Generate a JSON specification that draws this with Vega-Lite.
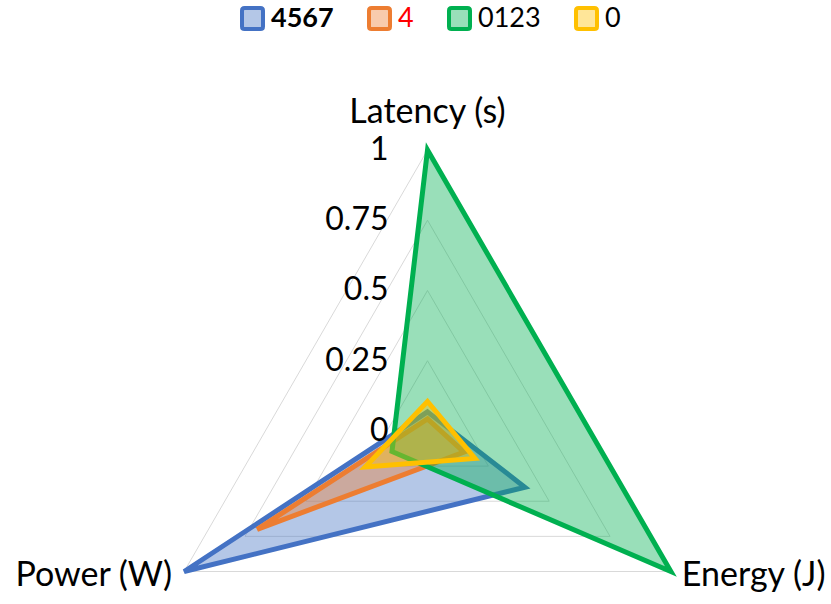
{
  "$schema": "https://vega.github.io/schema/vega-lite/v6.json",
  "width": 831,
  "height": 604,
  "autosize": {"type": "none"},
  "padding": 0,
  "background": "white",
  "config": {"view": {"stroke": null}, "font": "Lato"},
  "datasets": {
    "series": [
      {"series": "4567", "axis": "Latency (s)", "k": 0, "value": 0.068},
      {"series": "4567", "axis": "Energy (J)", "k": 1, "value": 0.40},
      {"series": "4567", "axis": "Power (W)", "k": 2, "value": 1.0},
      {"series": "4", "axis": "Latency (s)", "k": 0, "value": 0.043},
      {"series": "4", "axis": "Energy (J)", "k": 1, "value": 0.15},
      {"series": "4", "axis": "Power (W)", "k": 2, "value": 0.70},
      {"series": "0123", "axis": "Latency (s)", "k": 0, "value": 1.0},
      {"series": "0123", "axis": "Energy (J)", "k": 1, "value": 1.0},
      {"series": "0123", "axis": "Power (W)", "k": 2, "value": 0.146},
      {"series": "0", "axis": "Latency (s)", "k": 0, "value": 0.105},
      {"series": "0", "axis": "Energy (J)", "k": 1, "value": 0.195},
      {"series": "0", "axis": "Power (W)", "k": 2, "value": 0.256}
    ],
    "grid": [
      {"level": 0.25, "k": 0}, {"level": 0.25, "k": 1}, {"level": 0.25, "k": 2},
      {"level": 0.5, "k": 0}, {"level": 0.5, "k": 1}, {"level": 0.5, "k": 2},
      {"level": 0.75, "k": 0}, {"level": 0.75, "k": 1}, {"level": 0.75, "k": 2},
      {"level": 1, "k": 0}, {"level": 1, "k": 1}, {"level": 1, "k": 2}
    ],
    "ticks": [
      {"level": 0, "label": "0"},
      {"level": 0.25, "label": "0.25"},
      {"level": 0.5, "label": "0.5"},
      {"level": 0.75, "label": "0.75"},
      {"level": 1, "label": "1"}
    ],
    "axes": [
      {"axis": "Latency (s)", "k": 0},
      {"axis": "Energy (J)", "k": 1},
      {"axis": "Power (W)", "k": 2}
    ]
  },
  "layer": [
    {
      "data": {"name": "grid"},
      "transform": [
        {"calculate": "datum.k * 2 * PI / 3", "as": "theta"},
        {"calculate": "datum.level * sin(datum.theta)", "as": "x"},
        {"calculate": "datum.level * cos(datum.theta)", "as": "y"}
      ],
      "mark": {"type": "line", "interpolate": "linear-closed", "stroke": "#d9d9d9", "strokeWidth": 1},
      "encoding": {
        "x": {"field": "x", "type": "quantitative", "scale": {"domain": [-1.5214, 1.4359], "nice": false, "zero": false}, "axis": null},
        "y": {"field": "y", "type": "quantitative", "scale": {"domain": [-0.6157, 1.5338], "nice": false, "zero": false}, "axis": null},
        "detail": {"field": "level", "type": "nominal"},
        "order": {"field": "k", "type": "quantitative"}
      }
    },
    {
      "data": {"name": "series"},
      "transform": [
        {"calculate": "datum.k * 2 * PI / 3", "as": "theta"},
        {"calculate": "datum.value * sin(datum.theta)", "as": "x"},
        {"calculate": "datum.value * cos(datum.theta)", "as": "y"}
      ],
      "mark": {
        "type": "line", "interpolate": "linear-closed", "strokeWidth": 5, "fillOpacity": 0.4, "strokeJoin": "miter",
        "fill": {"expr": "datum.series ? scale('color', datum.series) : (datum.value === '4567' ? '#B4C7E7' : datum.value === '4' ? '#F8CBAD' : datum.value === '0123' ? '#99DFB9' : '#FFE699')"}
      },
      "encoding": {
        "x": {"field": "x", "type": "quantitative"},
        "y": {"field": "y", "type": "quantitative"},
        "color": {
          "field": "series", "type": "nominal",
          "scale": {"domain": ["4567", "4", "0123", "0"], "range": ["#4472C4", "#ED7D31", "#00B050", "#FFC000"]},
          "legend": {
            "orient": "none", "direction": "horizontal", "legendX": 239, "legendY": 5,
            "title": null, "padding": 0,
            "symbolType": "M-0.75,-1H0.75Q1,-1,1,-0.75V0.75Q1,1,0.75,1H-0.75Q-1,1,-1,0.75V-0.75Q-1,-1,-0.75,-1Z",
            "symbolSize": 441, "symbolStrokeWidth": 4,
            "labelFontSize": 27, "labelFont": "Lato", "labelOffset": 5, "columnPadding": 27,
            "labelColor": {"expr": "datum.label === '4' ? '#ff0000' : '#000000'"},
            "labelFontWeight": {"expr": "datum.label === '4567' ? 'bold' : 'normal'"}
          }
        },
        "order": {"field": "k", "type": "quantitative"}
      }
    },
    {
      "data": {"name": "ticks"},
      "mark": {"type": "text", "align": "right", "baseline": "middle", "dx": -39, "fontSize": 32, "font": "Lato", "color": "black"},
      "transform": [{"calculate": "0", "as": "x"}],
      "encoding": {
        "x": {"field": "x", "type": "quantitative"},
        "y": {"field": "level", "type": "quantitative"},
        "text": {"field": "label"}
      }
    },
    {
      "data": {"name": "axes"},
      "transform": [
        {"filter": "datum.k == 0"},
        {"calculate": "0", "as": "x"},
        {"calculate": "1", "as": "y"}
      ],
      "mark": {"type": "text", "align": "center", "baseline": "alphabetic", "dy": -27, "fontSize": 34, "font": "Lato", "color": "black"},
      "encoding": {
        "x": {"field": "x", "type": "quantitative"},
        "y": {"field": "y", "type": "quantitative"},
        "text": {"field": "axis"}
      }
    },
    {
      "data": {"name": "axes"},
      "transform": [
        {"filter": "datum.k == 1"},
        {"calculate": "sin(2 * PI / 3)", "as": "x"},
        {"calculate": "cos(2 * PI / 3)", "as": "y"}
      ],
      "mark": {"type": "text", "align": "left", "baseline": "alphabetic", "dx": 11, "dy": 15, "fontSize": 34, "font": "Lato", "color": "black"},
      "encoding": {
        "x": {"field": "x", "type": "quantitative"},
        "y": {"field": "y", "type": "quantitative"},
        "text": {"field": "axis"}
      }
    },
    {
      "data": {"name": "axes"},
      "transform": [
        {"filter": "datum.k == 2"},
        {"calculate": "sin(4 * PI / 3)", "as": "x"},
        {"calculate": "cos(4 * PI / 3)", "as": "y"}
      ],
      "mark": {"type": "text", "align": "right", "baseline": "alphabetic", "dx": -12, "dy": 15, "fontSize": 34, "font": "Lato", "color": "black"},
      "encoding": {
        "x": {"field": "x", "type": "quantitative"},
        "y": {"field": "y", "type": "quantitative"},
        "text": {"field": "axis"}
      }
    }
  ]
}
